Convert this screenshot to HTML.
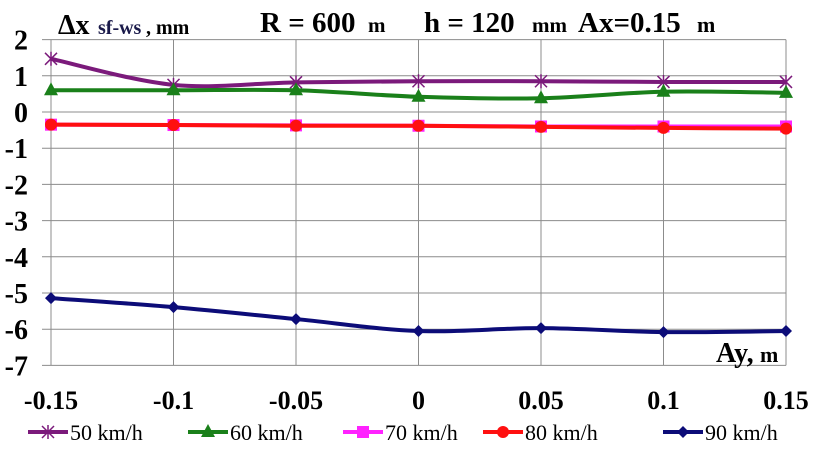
<!DOCTYPE html>
<html><head><meta charset="utf-8"><style>
body{margin:0;background:#fff;width:819px;height:455px;overflow:hidden}
text{font-family:"Liberation Serif","Times New Roman",Times,"Nimbus Roman","DejaVu Serif",serif !important}
</style></head><body>
<svg id="s" width="819" height="455" xmlns="http://www.w3.org/2000/svg">
<g stroke="#8c8c8c" stroke-width="1" id="grid"></g>
<g font-weight="bold" font-size="28" text-anchor="end" id="yl"></g>
<g font-weight="bold" font-size="26" text-anchor="middle" id="xl"></g>
<g id="series"></g>
<g font-weight="bold">
<text x="58" y="34" font-size="28">Δx</text>
<text x="98" y="34" font-size="20" fill="#1a1a4a">sf-ws</text>
<text x="146" y="34" font-size="20">, mm</text>
<text x="260" y="32" font-size="29">R = 600</text>
<text x="368" y="32" font-size="21">m</text>
<text x="424" y="32" font-size="29">h = 120</text>
<text x="532" y="32" font-size="21">mm</text>
<text x="578" y="32" font-size="29">Ax=0.15</text>
<text x="697" y="32" font-size="22">m</text>
<text x="716" y="362" font-size="28">Ay,</text>
<text x="760" y="362" font-size="22">m</text>
</g>
<g id="leg" font-size="22"></g>
</svg>
<script>
const NS="http://www.w3.org/2000/svg";
function el(p,t,a,txt){const e=document.createElementNS(NS,t);for(const k in a)e.setAttribute(k,a[k]);if(txt!=null)e.textContent=txt;document.getElementById(p).appendChild(e);return e;}
const X=v=>51+(v+0.15)/0.05*122.5, Y=v=>112-36.2*v;
for(let v=2;v>=-7;v--){el("grid","line",{x1:42,x2:786,y1:Y(v),y2:Y(v)});el("yl","text",{x:28,y:Y(v)+10},v);}
const xs=[-0.15,-0.1,-0.05,0,0.05,0.1,0.15];
xs.forEach(v=>{el("grid","line",{x1:X(v),x2:X(v),y1:Y(2),y2:Y(-7)});el("xl","text",{x:X(v),y:409},String(v));});
const S=[
["#7b1a7b","star",[1.47,0.75,0.82,0.85,0.85,0.83,0.83],"50 km/h"],
["#1a801a","tri",[0.6,0.6,0.6,0.42,0.38,0.56,0.53],"60 km/h"],
["#ff22ff","sq",[-0.35,-0.36,-0.37,-0.38,-0.40,-0.40,-0.40],"70 km/h"],
["#ff1010","dot",[-0.35,-0.36,-0.38,-0.38,-0.41,-0.44,-0.46],"80 km/h"],
["#0c0c78","dia",[-5.14,-5.39,-5.72,-6.05,-5.97,-6.08,-6.05],"90 km/h"]];
function marker(g,type,x,y,c){
 if(type=="star"){el(g,"path",{d:`M${x-6} ${y-6}L${x+6} ${y+6}M${x-6} ${y+6}L${x+6} ${y-6}M${x} ${y-7}L${x} ${y+7}`,stroke:c,"stroke-width":1.5,fill:"none"});}
 else if(type=="tri")el(g,"path",{d:`M${x} ${y-8}L${x+7} ${y+5}L${x-7} ${y+5}Z`,fill:c});
 else if(type=="sq")el(g,"rect",{x:x-6,y:y-6,width:12,height:12,fill:c});
 else if(type=="dot")el(g,"circle",{cx:x,cy:y,r:6,fill:c});
 else el(g,"path",{d:`M${x} ${y-6}L${x+6} ${y}L${x} ${y+6}L${x-6} ${y}Z`,fill:c});
}
S.forEach(([c,m,d])=>{
 const P=d.map((v,i)=>[X(xs[i]),Y(v)]);let p=`M${P[0][0]} ${P[0][1]}`;
 for(let i=0;i<P.length-1;i++){const p0=P[i-1]||P[i],p1=P[i],p2=P[i+1],p3=P[i+2]||P[i+1],t=6;
  p+=`C${p1[0]+(p2[0]-p0[0])/t} ${p1[1]+(p2[1]-p0[1])/t} ${p2[0]-(p3[0]-p1[0])/t} ${p2[1]-(p3[1]-p1[1])/t} ${p2[0]} ${p2[1]}`;}
 el("series","path",{d:p,stroke:c,"stroke-width":4,fill:"none"});
 P.forEach(q=>marker("series",m,q[0],q[1],c));
});
const lx=[28,188,343,483,663];
S.forEach(([c,m,,n],i)=>{const x=lx[i];el("leg","line",{x1:x,x2:x+40,y1:432,y2:432,stroke:c,"stroke-width":4});marker("leg",m,x+20,432,c);el("leg","text",{x:x+42,y:440},n);});
</script>
</body></html>
